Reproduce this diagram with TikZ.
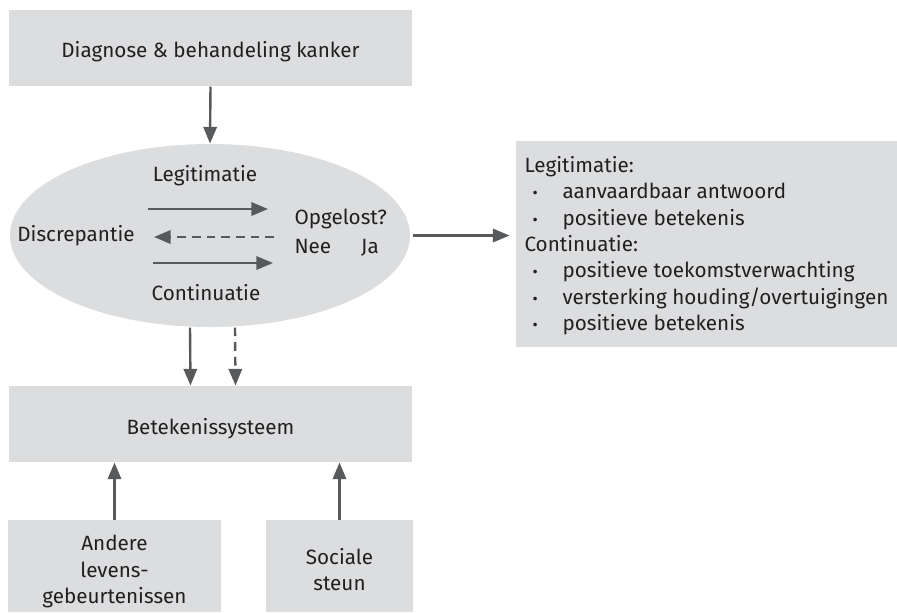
\documentclass[tikz,border=0pt]{standalone}
\usepackage{fontspec}
\setmainfont{Fira Sans}
\usetikzlibrary{arrows.meta,shapes.geometric}

\definecolor{boxgray}{RGB}{220,221,223}
\definecolor{arrowgray}{RGB}{88,89,91}
\definecolor{inkblack}{RGB}{35,31,32}

\newcommand{\bulletitem}[1]{\makebox[28.5pt][l]{\hspace{6pt}{\fontsize{12}{12}\selectfont\textbullet}}#1}

\tikzset{every picture/.style={line width=0.75pt}}
\tikzset{
  graybox/.style={fill=boxgray, inner sep=0pt, text=inkblack, align=center},
  txtnode/.style={inner sep=0pt, text=inkblack},
  arr/.style={draw=arrowgray, line width=1.8pt, -{Triangle[length=12.5pt,width=10pt]}},
  dasharr/.style={arr, dash pattern={on 6.5pt off 4.5pt}},
}

\begin{document}
\begin{tikzpicture}[x=0.75pt,y=0.75pt,yscale=-1,xscale=1, font=\fontsize{15.5}{20}\selectfont]
        \useasboundingbox (0,0) rectangle (897,612);

        % Boxes
        \node (diag) [graybox, minimum width=302.25pt, minimum height=57pt] at (210.5,48) {};
        \node (cycle) [ellipse, fill=boxgray, inner sep=0pt, minimum width=300pt, minimum height=137.25pt] at (210,235.5) {};
        \node (res) [graybox, minimum width=285.75pt, minimum height=154.5pt] at (706.5,244) {};
        \node (bet) [graybox, minimum width=302.25pt, minimum height=57pt] at (210.5,424) {};
        \node (andere) [graybox, minimum width=159.75pt, minimum height=69pt] at (114.5,566) {};
        \node (sociaal) [graybox, minimum width=110.25pt, minimum height=69pt] at (339.5,566) {};

        % Text Node
        \node (diagtxt) [txtnode, anchor=base] at (210.5,57.5) {Diagnose \& behandeling kanker};
        % Text Node
        \node (bettxt) [txtnode, anchor=base] at (210.5,434) {Betekenissysteem};
        % Text Node
        \node (leg) [txtnode, anchor=base] at (205,181) {Legitimatie};
        % Text Node
        \node (disc) [txtnode, anchor=base] at (76,241.5) {Discrepantie};
        % Text Node
        \node (opg) [txtnode, anchor=base west] at (294,224) {Opgelost?};
        % Text Node
        \node (nee) [txtnode, anchor=base west] at (294,253) {Nee};
        % Text Node
        \node (ja) [txtnode, anchor=base] at (370,253) {Ja};
        % Text Node
        \node (cont) [txtnode, anchor=base] at (206,300.5) {Continuatie};
        % Text Node
        \node (anderetxt) [txtnode, anchor=base] at (114.5,550) {Andere};
        \node (levenstxt) [txtnode, anchor=base] at (114.5,577) {levens-};
        \node (gebeurtxt) [txtnode, anchor=base] at (114.5,603) {gebeurtenissen};
        % Text Node
        \node (socialetxt) [txtnode, anchor=base] at (339.5,564) {Sociale};
        \node (steuntxt) [txtnode, anchor=base] at (339.5,590) {steun};
        % Text Node
        \node (restxt) [txtnode, anchor=north west, align=left, font=\fontsize{15.5}{19.75}\selectfont] at (524,156) {Legitimatie:\\
            \bulletitem{aanvaardbaar antwoord}\\
            \bulletitem{positieve betekenis}\\
            Continuatie:\\
            \bulletitem{positieve toekomstverwachting}\\
            \bulletitem{versterking houding/overtuigingen}\\
            \bulletitem{positieve betekenis}};

        % Coordinates inside the ellipse
        \coordinate (legA) at (148,209);
        \coordinate (legB) at (268,209);
        \coordinate (neeA) at (274,237);
        \coordinate (neeB) at (154,237);
        \coordinate (contA) at (153,263);
        \coordinate (contB) at (273,263);

        %Straight Lines
        \draw [arr] (diag.south) -- (cycle.north);
        %Straight Lines
        \draw [arr] (legA) -- (legB);
        %Straight Lines
        \draw [dasharr] (neeA) -- (neeB);
        %Straight Lines
        \draw [arr] (contA) -- (contB);
        %Straight Lines
        \draw [arr, shorten <=2pt, shorten >=4.5pt] (cycle.east) -- (res.west |- cycle.east);
        %Straight Lines
        \draw [arr] ([xshift=-15pt]cycle.south) -- ([xshift=-15pt]bet.north);
        %Straight Lines
        \draw [dasharr] ([xshift=18.75pt]cycle.south) -- ([xshift=18.75pt]bet.north);
        %Straight Lines
        \draw [arr] (andere.north) -- (andere.north |- bet.south);
        %Straight Lines
        \draw [arr] (sociaal.north) -- (sociaal.north |- bet.south);
\end{tikzpicture}
\end{document}
